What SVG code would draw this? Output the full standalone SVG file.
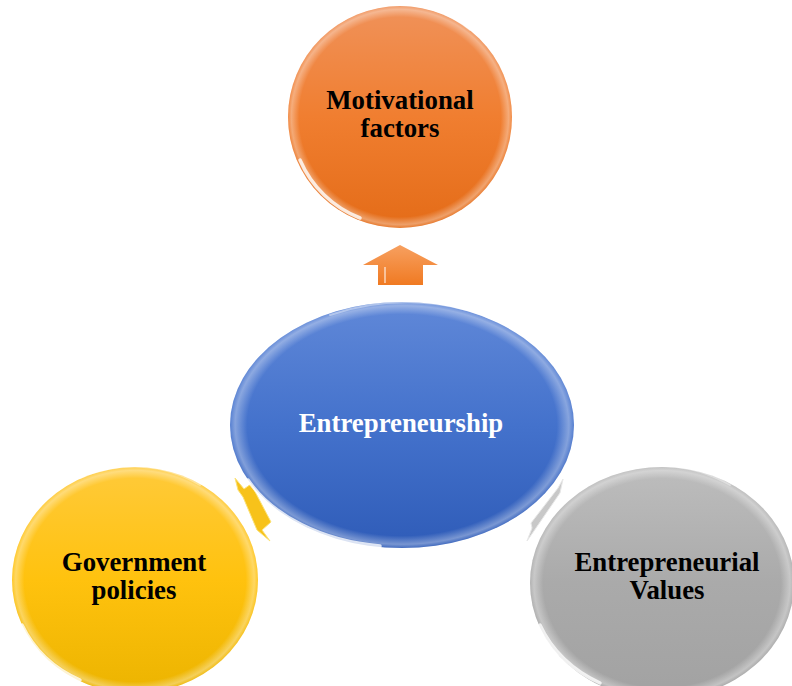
<svg xmlns="http://www.w3.org/2000/svg" width="792" height="686" viewBox="0 0 792 686">
<defs>
<linearGradient id="gO" x1="0" y1="0" x2="0" y2="1"><stop offset="0" stop-color="#f0925a"/><stop offset="0.5" stop-color="#f07e30"/><stop offset="1" stop-color="#e46c18"/></linearGradient>
<linearGradient id="gB" x1="0" y1="0" x2="0" y2="1"><stop offset="0" stop-color="#6088d8"/><stop offset="0.5" stop-color="#4472cc"/><stop offset="1" stop-color="#2f5cb8"/></linearGradient>
<linearGradient id="gY" x1="0" y1="0" x2="0" y2="1"><stop offset="0" stop-color="#ffca3a"/><stop offset="0.5" stop-color="#ffc20e"/><stop offset="1" stop-color="#ecb400"/></linearGradient>
<linearGradient id="gG" x1="0" y1="0" x2="0" y2="1"><stop offset="0" stop-color="#bdbdbd"/><stop offset="0.5" stop-color="#aaaaaa"/><stop offset="1" stop-color="#a2a2a2"/></linearGradient>
<linearGradient id="gA" x1="0" y1="0" x2="0" y2="1"><stop offset="0" stop-color="#f7a060"/><stop offset="1" stop-color="#f07a22"/></linearGradient>
<radialGradient id="rim" cx="0.5" cy="0.5" r="0.5"><stop offset="0.9" stop-color="#fff" stop-opacity="0"/><stop offset="0.97" stop-color="#fff" stop-opacity="0.35"/><stop offset="1" stop-color="#fff" stop-opacity="0.1"/></radialGradient>
</defs>
<style>
.t{font-family:"Liberation Serif","Times New Roman",serif;font-weight:bold;font-size:26.8px;text-anchor:middle;fill:#000}
.w{fill:#fff}
.hl{fill:none;stroke:#fff;stroke-linecap:round}
</style>
<g id="connectors">
<polygon points="400,245 438,265 423,265 423,285 378,285 378,265 363,265" fill="url(#gA)"/>
<line x1="385" y1="267" x2="385" y2="283" stroke="#fff" stroke-opacity="0.5" stroke-width="2"/>
<polygon points="235,478 244,489 251,484 271,522 262,530 270,541 257,530 243,497 238,490" fill="#f7c21a" stroke="#fbe27a" stroke-width="1"/>
<polygon points="563,479 558,488 531,523 532,528 527,541 536,528 560,493" fill="#c8c8c8" stroke="#e8e8e8" stroke-width="1"/>
</g>
<g id="motivational">
<ellipse cx="400" cy="117" rx="112" ry="111" fill="url(#gO)"/>
<ellipse cx="400" cy="117" rx="112" ry="111" fill="url(#rim)"/>
<path d="M300,160 A108,108 0 0 0 360,218" class="hl" stroke-width="3.5" stroke-opacity="0.8"/>
<path d="M340,22 A110,108 0 0 1 470,30" class="hl" stroke-width="2" stroke-opacity="0.4"/>
<text class="t" x="400" y="109">Motivational</text>
<text class="t" x="400" y="137">factors</text>
</g>
<g id="entrepreneurship">
<ellipse cx="402" cy="425" rx="172" ry="123" fill="url(#gB)"/>
<ellipse cx="402" cy="425" rx="172" ry="123" fill="url(#rim)"/>
<path d="M248,480 A168,118 0 0 0 380,546" class="hl" stroke-width="3.5" stroke-opacity="0.8"/>
<path d="M330,315 A168,118 0 0 1 490,318" class="hl" stroke-width="2" stroke-opacity="0.4"/>
<text class="t w" x="401" y="432">Entrepreneurship</text>
</g>
<g id="government">
<ellipse cx="135" cy="580" rx="123" ry="113" fill="url(#gY)"/>
<ellipse cx="135" cy="580" rx="123" ry="113" fill="url(#rim)"/>
<path d="M22,625 A120,110 0 0 0 80,680" class="hl" stroke-width="3.5" stroke-opacity="0.8"/>
<path d="M80,478 A120,110 0 0 1 200,485" class="hl" stroke-width="2" stroke-opacity="0.4"/>
<text class="t" x="134" y="571">Government</text>
<text class="t" x="134" y="599">policies</text>
</g>
<g id="values">
<ellipse cx="662" cy="583" rx="132" ry="116" fill="url(#gG)"/>
<ellipse cx="662" cy="583" rx="132" ry="116" fill="url(#rim)"/>
<path d="M540,625 A128,112 0 0 0 600,683" class="hl" stroke-width="3.5" stroke-opacity="0.8"/>
<path d="M600,478 A128,112 0 0 1 730,485" class="hl" stroke-width="2" stroke-opacity="0.4"/>
<text class="t" x="667" y="571">Entrepreneurial</text>
<text class="t" x="667" y="599">Values</text>
</g>
</svg>
